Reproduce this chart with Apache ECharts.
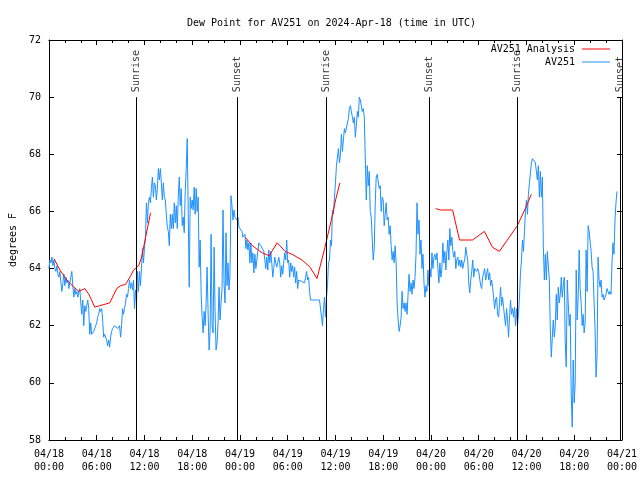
<!DOCTYPE html>
<html>
<head>
<meta charset="utf-8">
<script src="https://cdn.jsdelivr.net/npm/echarts@6/dist/echarts.min.js"></script>
<style>html,body{margin:0;padding:0;background:#fff}#c{width:640px;height:480px}</style>
</head>
<body>
<div id="c"></div>
<script>
const titleText = 'Dew Point for AV251 on 2024-Apr-18 (time in UTC)';
const yAxisName = 'degrees F';
const xTickLabels = ['04/18\n00:00','04/18\n06:00','04/18\n12:00','04/18\n18:00','04/19\n00:00','04/19\n06:00','04/19\n12:00','04/19\n18:00','04/20\n00:00','04/20\n06:00','04/20\n12:00','04/20\n18:00','04/21\n00:00'];
const obsName = 'AV251';
const analysisName = 'AV251 Analysis';
const obsStartHour = 0;
const obsStepMinutes = 7.5;
const obsValues = [
64.0,64.3,64.2,64.4,64.1,64.3,64.0,63.9,64.1,63.8,
63.7,63.9,63.5,63.2,63.5,63.8,63.4,63.7,63.5,63.6,
63.3,63.5,63.7,63.9,63.4,63.0,63.3,63.1,63.2,63.0,
63.2,63.3,62.8,62.4,62.9,62.0,62.7,62.5,62.7,62.9,
62.6,61.7,62.1,61.7,61.7,61.8,61.9,62.0,62.1,62.3,
62.4,62.6,62.5,62.6,62.2,61.6,61.7,61.7,61.5,61.3,
61.5,61.25,61.6,61.8,61.9,61.9,62.0,62.0,62.0,61.9,
61.9,62.0,61.6,62.0,62.6,62.4,62.6,62.8,63.1,63.0,
63.3,63.6,63.3,63.5,63.25,63.6,62.6,63.25,62.8,63.9,
63.2,63.9,63.4,64.0,64.7,64.2,64.7,65.1,66.3,65.6,
66.3,66.5,66.3,66.8,67.2,66.5,67.0,66.9,66.4,66.8,
67.5,67.1,67.5,67.0,66.4,67.0,66.5,66.4,65.9,65.45,
65.3,64.8,65.9,65.4,65.9,65.4,66.3,65.6,66.2,65.4,
66.5,67.2,66.2,66.8,65.5,65.8,65.25,66.7,67.5,68.55,
66.0,63.35,66.5,66.1,66.4,66.05,66.85,65.9,66.8,66.0,
66.5,64.05,65.0,63.1,62.3,61.75,62.5,62.0,62.8,64.05,
62.4,61.15,61.8,65.2,62.0,61.75,64.75,62.5,61.15,61.4,
62.1,63.35,62.2,62.8,63.3,66.05,63.5,62.8,65.25,63.4,
64.2,63.25,63.8,66.55,66.2,65.7,66.05,65.8,65.75,65.7,
65.8,65.45,65.4,65.4,65.3,65.1,65.15,65.2,64.7,65.0,
64.65,64.9,64.2,64.9,64.2,64.55,63.85,64.5,64.0,64.3,
64.6,64.9,64.85,64.8,64.8,64.8,64.6,64.65,64.0,64.4,
63.95,64.65,64.2,64.6,64.2,63.7,64.0,64.4,64.2,64.05,
64.2,64.4,64.2,63.7,64.1,63.8,64.2,64.55,64.3,65.0,
64.2,64.3,63.7,64.2,63.9,64.1,63.7,64.05,63.5,63.9,
63.3,63.6,63.6,63.6,63.55,63.6,63.55,63.5,63.7,63.9,
63.6,63.7,63.2,62.9,62.9,62.9,62.9,62.9,62.9,62.9,
62.9,62.9,62.9,62.9,62.9,62.0,62.6,63.0,62.3,63.0,
63.4,64.2,64.3,65.0,64.8,66.05,65.9,66.5,67.0,67.6,
67.9,68.2,67.7,68.0,68.7,68.1,68.5,68.9,68.75,68.8,
68.7,69.25,69.6,69.7,69.5,69.3,69.1,69.3,68.6,69.0,
69.5,69.3,70.0,69.9,69.7,69.5,69.6,69.3,69.25,66.4,
67.6,66.9,67.4,66.0,65.8,65.0,64.3,64.7,66.3,67.2,
67.3,67.35,66.8,66.9,66.0,66.5,66.4,65.5,65.9,66.3,
65.7,65.8,65.2,65.5,64.8,64.3,64.6,64.2,64.8,64.2,
62.8,62.2,61.8,62.0,62.3,63.2,62.6,62.8,62.5,62.8,
62.4,63.1,63.8,63.2,63.5,63.1,63.6,63.3,63.7,64.5,
66.3,65.2,65.7,64.5,65.0,64.0,64.5,63.5,63.0,63.4,
63.2,63.95,63.4,64.0,63.7,64.55,64.0,64.4,64.5,64.3,
64.55,64.0,63.5,64.2,63.7,64.0,64.9,64.2,64.6,63.95,
64.6,65.0,64.3,65.4,64.8,65.1,64.6,64.4,64.6,64.0,
64.3,64.4,64.1,64.3,64.05,64.3,64.0,64.2,64.3,64.75,
64.5,64.3,63.5,63.15,63.6,63.9,64.3,63.7,64.0,63.95,
63.9,64.0,63.9,63.85,63.4,63.3,63.7,63.85,64.0,63.6,
63.8,64.0,63.6,63.85,63.4,63.6,63.35,63.0,62.6,62.9,
63.0,62.4,62.3,62.8,63.35,62.7,63.0,62.65,62.3,62.0,
62.6,62.2,61.6,62.3,62.9,62.4,62.6,62.3,62.65,62.0,
62.6,62.0,62.4,63.0,63.85,64.3,65.0,64.6,65.3,66.0,
66.4,65.9,66.6,67.0,67.35,67.7,67.85,67.9,67.9,67.7,
67.75,67.1,67.6,66.5,67.4,66.5,67.2,64.75,63.6,64.5,
63.6,64.6,64.55,63.6,61.85,60.9,61.6,62.2,61.6,62.0,
63.1,62.2,63.35,62.8,63.1,63.7,63.0,63.4,63.7,61.4,
60.55,63.6,62.8,62.0,62.4,59.65,58.45,60.8,59.3,60.0,
63.95,62.2,63.0,64.65,63.3,62.8,62.0,62.4,61.75,62.1,
64.65,63.2,65.5,65.3,65.25,64.6,64.05,63.9,62.8,61.85,
60.2,61.0,64.4,63.6,63.35,63.6,63.0,63.1,62.9,63.0,
63.1,63.3,63.2,63.1,63.2,63.1,64.2,64.9,64.5,65.7,
66.3,66.7
];
// analysis segments: [hour, value]
const analysisDay1 = [[0.63,64.35],[1.38,63.95],[2.25,63.6],[3.13,63.35],[3.76,63.2],[4.51,63.3],[5.01,63.1],[5.76,62.65],[6.39,62.7],[7.64,62.8],[8.52,63.3],[9.02,63.4],[9.64,63.45],[10.27,63.75],[10.64,63.95],[11.27,64.1],[11.65,64.4],[12.15,65.1],[12.77,65.95]];
const analysisDay2 = [[24.67,65.1],[25.55,64.8],[26.3,64.65],[26.8,64.55],[27.67,64.45],[28.68,64.9],[29.68,64.6],[30.55,64.5],[31.81,64.3],[32.81,64.05],[33.68,63.65],[34.69,64.75],[35.56,65.8],[36.06,66.45],[36.56,67.0]];
const analysisDay3 = [[48.59,66.1],[49.21,66.05],[50.72,66.05],[51.59,65.0],[53.22,65.0],[54.22,65.2],[54.72,65.3],[55.72,64.75],[56.6,64.6],[57.6,65.0],[58.85,65.5],[59.86,66.1],[60.61,66.6]];
const sunEventNames = ['Sunrise','Sunset','Sunrise','Sunset','Sunrise','Sunset'];
const sunEventHours = [10.93,23.67,34.9,47.75,58.89,71.79];
const sunLineTop = 70;
const yMin = 58, yMax = 72, yStep = 2;
const xMin = 0, xMax = 72, xStep = 6;

const obsData = obsValues.map((v, i) => [obsStartHour + i * obsStepMinutes / 60, v]);
const analysisData = analysisDay1.concat([[null, null]], analysisDay2, [[null, null]], analysisDay3);

const FONT = 'DejaVu Sans Mono';
const txt = {fontFamily: FONT, fontSize: 10, color: '#000'};

const chart = echarts.init(document.getElementById('c'), null, {renderer: 'canvas'});
chart.setOption({
  animation: false,
  backgroundColor: '#fff',
  title: {
    text: titleText, left: 182, top: 13,
    textStyle: {fontFamily: FONT, fontSize: 10, fontWeight: 'normal', color: '#000'}
  },
  legend: {
    data: [analysisName, obsName],
    orient: 'vertical', right: 30, top: 44, align: 'right',
    itemWidth: 28, itemHeight: 1, itemGap: 3, icon: 'rect',
    textStyle: {fontFamily: FONT, fontSize: 10, color: '#000', padding: [0, 2, 0, 0]},
    padding: 0, selectedMode: false
  },
  grid: {left: 45, right: 18, top: 40, bottom: 40, containLabel: false},
  xAxis: [{
    type: 'value', min: xMin, max: xMax, interval: xStep,
    axisLine: {show: true, onZero: false, lineStyle: {color: '#000', width: 1}},
    axisTick: {show: true, inside: true, length: 5, lineStyle: {color: '#000'}},
    minorTick: {show: true, splitNumber: 3, length: 3, lineStyle: {color: '#000'}},
    splitLine: {show: false},
    axisLabel: {...txt, margin: 8, lineHeight: 13, formatter: v => xTickLabels[Math.round(v / xStep)] || ''}
  }, {
    type: 'value', min: xMin, max: xMax, interval: xStep, position: 'top',
    axisLine: {show: true, onZero: false, lineStyle: {color: '#000', width: 1}},
    axisTick: {show: true, inside: true, length: 5, lineStyle: {color: '#000'}},
    minorTick: {show: true, splitNumber: 3, length: 3, lineStyle: {color: '#000'}},
    splitLine: {show: false}, axisLabel: {show: false}
  }],
  yAxis: [{
    type: 'value', min: yMin, max: yMax, interval: yStep,
    name: yAxisName, nameLocation: 'middle', nameGap: 30, nameRotate: 90,
    nameTextStyle: {fontFamily: FONT, fontSize: 10, color: '#000'},
    axisLine: {show: true, onZero: false, lineStyle: {color: '#000', width: 1}},
    axisTick: {show: true, inside: true, length: 5, lineStyle: {color: '#000'}},
    splitLine: {show: false},
    axisLabel: {...txt, margin: 8}
  }, {
    type: 'value', min: yMin, max: yMax, interval: yStep, position: 'right',
    axisLine: {show: true, onZero: false, lineStyle: {color: '#000', width: 1}},
    axisTick: {show: true, inside: true, length: 5, lineStyle: {color: '#000'}},
    splitLine: {show: false}, axisLabel: {show: false}
  }],
  series: [{
    name: 'sun', type: 'scatter', symbolSize: 0, silent: true,
    data: sunEventHours.map((h, i) => ({name: sunEventNames[i], value: [h, sunLineTop]})),
    label: {
      show: true, formatter: p => p.name, position: 'top', distance: 5, rotate: 90,
      align: 'left', verticalAlign: 'middle', ...txt
    },
    markLine: {
      silent: true, symbol: ['none', 'none'], animation: false,
      label: {show: false},
      lineStyle: {color: '#000', width: 1, type: 'solid'},
      emphasis: {disabled: true},
      data: sunEventHours.map(h => [{coord: [h, sunLineTop]}, {coord: [h, yMin]}])
    }
  }, {
    name: analysisName, type: 'line', data: analysisData, showSymbol: false, symbol: 'none',
    connectNulls: false, lineStyle: {color: '#ff0000', width: 1}, itemStyle: {color: '#ff0000'}, z: 4
  }, {
    name: obsName, type: 'line', data: obsData, showSymbol: false, symbol: 'none',
    lineStyle: {color: '#1e90ff', width: 1}, itemStyle: {color: '#1e90ff'}, z: 3
  }]
});
</script>
</body>
</html>
